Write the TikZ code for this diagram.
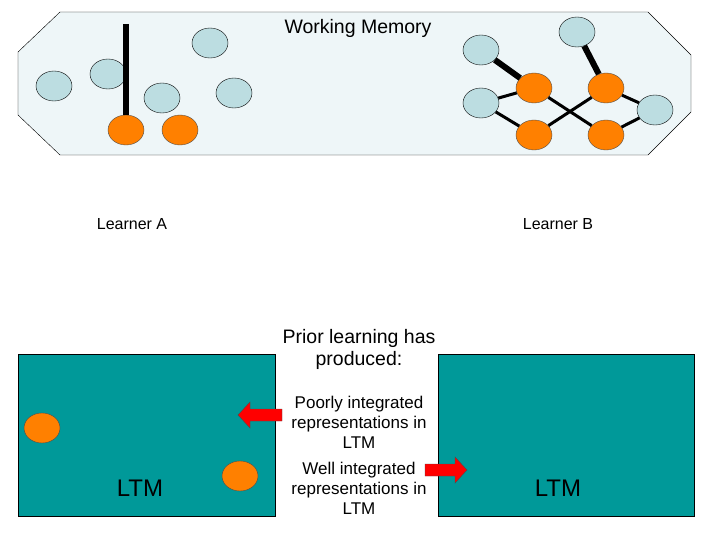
\documentclass[tikz,border=0pt]{standalone}
\usetikzlibrary{shapes.geometric}
\usepackage{fontspec}
\setmainfont{Liberation Sans}
\begin{document}
\begin{tikzpicture}[x=1pt,y=-1pt,
 bc/.style={ellipse,draw=black,fill=bluec,minimum width=36pt,minimum height=30pt,inner sep=0pt},
 oc/.style={ellipse,draw=black!70,fill=orangec,minimum width=36pt,minimum height=30pt,inner sep=0pt},
 lnk/.style={line width=3pt},
 blink/.style={line width=6pt},
 arr/.style={draw=black!70,fill=red,line width=0.4pt},
 txt/.style={align=center,font=\fontsize{17}{20}\selectfont}]
\definecolor{bluec}{HTML}{BCDDE1}
\definecolor{orangec}{HTML}{FF8000}
\definecolor{wm}{HTML}{EEF6F8}
\definecolor{tealc}{HTML}{009999}
\useasboundingbox (0,0) rectangle (720,540);
\draw[fill=wm] (60,12) -- (648,12) -- (691,55) -- (691,112) -- (648,155) -- (60,155) -- (18,115) -- (18,52) -- cycle;
\node[font=\fontsize{19.5}{22}\selectfont] (wmt) at (358,28) {Working Memory};
% learner A
\foreach \n/\x/\y in {a1/54/86,a2/108/74,a3/162/98,a4/210/43,a5/234/93}
  \node[bc] (\n) at (\x,\y) {};
\node[oc] (ao1) at (126,130) {};
\node[oc] (ao2) at (180,130) {};
\coordinate (atop) at (126,24);
\draw[blink] (atop) -- (ao1.north);
% learner B
\foreach \n/\x/\y in {b1/481/50,b2/577/32,b3/481/103,b4/655/110}
  \node[bc] (\n) at (\x,\y) {};
\node[oc] (bo1) at (534,88) {};
\node[oc] (bo2) at (606,88) {};
\node[oc] (bo3) at (534,135) {};
\node[oc] (bo4) at (606,135) {};
\draw[blink] (b1) -- (bo1);
\draw[blink] (b2) -- (bo2);
\draw[lnk] (b3) -- (bo1);
\draw[lnk] (b3) -- (bo3);
\draw[lnk] (bo1) -- (bo4);
\draw[lnk] (bo2) -- (bo3);
\draw[lnk] (bo2) -- (b4);
\draw[lnk] (bo4) -- (b4);
\node[font=\fontsize{16}{18}\selectfont] (la) at (132,224) {Learner A};
\node[font=\fontsize{16}{18}\selectfont] (lb) at (558,224) {Learner B};
% LTM boxes
\draw[fill=tealc] (18,354) rectangle (275,516);
\draw[fill=tealc] (438,354) rectangle (694,516);
\node[font=\fontsize{24}{26}\selectfont] (ltma) at (140,488) {LTM};
\node[font=\fontsize{24}{26}\selectfont] (ltmb) at (558,488) {LTM};
\node[oc] (lo1) at (42,428) {};
\node[oc] (lo2) at (240,476) {};
\node[align=center,font=\fontsize{19.5}{22}\selectfont] (prior) at (359,349) {Prior learning has\\produced:};
\node[txt] (poor) at (359,422) {Poorly integrated\\representations in\\LTM};
\node[txt] (well) at (359,488) {Well integrated\\representations in\\LTM};
\draw[arr] (282,409) -- (250,409) -- (250,402) -- (238,415) -- (250,428) -- (250,421) -- (282,421) -- cycle;
\draw[arr] (425,464) -- (455,464) -- (455,457) -- (467,470) -- (455,483) -- (455,476) -- (425,476) -- cycle;
\end{tikzpicture}
\end{document}
